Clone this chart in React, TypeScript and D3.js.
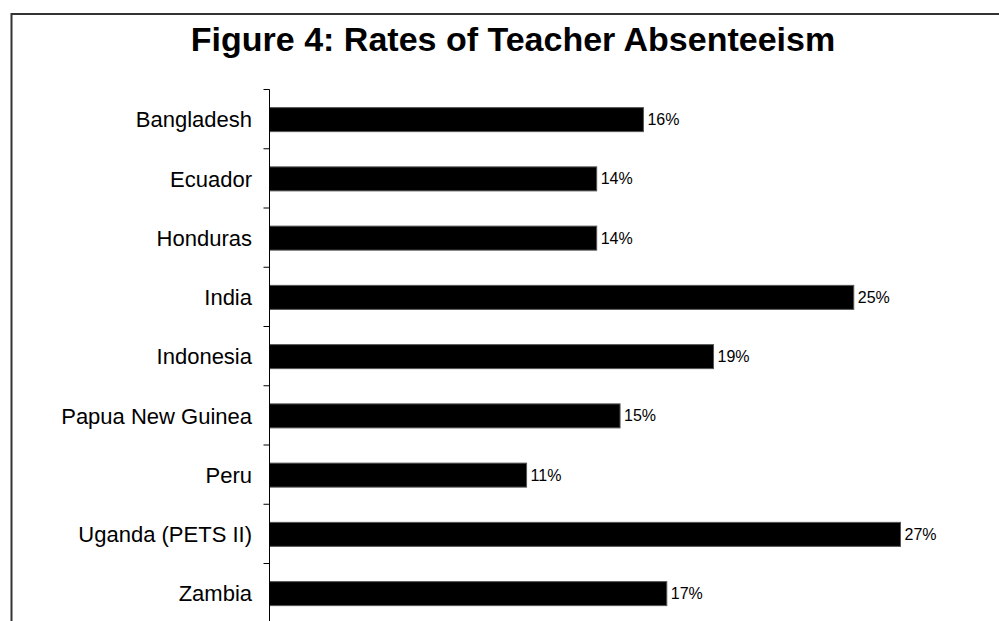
import React from "react";
import * as d3 from "d3";

const categories = [
  "Bangladesh",
  "Ecuador",
  "Honduras",
  "India",
  "Indonesia",
  "Papua New Guinea",
  "Peru",
  "Uganda (PETS II)",
  "Zambia",
];
const values = [16, 14, 14, 25, 19, 15, 11, 27, 17];
const valueLabels = ["16%", "14%", "14%", "25%", "19%", "15%", "11%", "27%", "17%"];
const title = "Figure 4: Rates of Teacher Absenteeism";

const W = 999;
const H = 621;
const FONT = "Arial, 'Liberation Sans', Helvetica, sans-serif";

export default function App() {
  const axisX = 269.5;
  const top = 89.5;
  const step = 59.25;
  const x = d3.scaleLinear().domain([0, 30]).range([axisX, axisX + 30 * 23.37]);
  const y = d3
    .scaleBand<string>()
    .domain(categories)
    .range([top, top + step * categories.length])
    .paddingInner(0.595)
    .paddingOuter(0.2975);
  const ticks = d3.range(categories.length + 1).map((i) => top + i * step);

  return (
    <svg
      width={W}
      height={H}
      style={{ position: "absolute", left: 0, top: 0, background: "#fff" }}
      fontFamily={FONT}
    >
      <rect x={0} y={0} width={W} height={H} fill="#fff" />
      <rect x={11.5} y={14} width={W + 50} height={H + 50} fill="none" stroke="#333" strokeWidth={2} />
      <text x={513} y={50.5} textAnchor="middle" fontSize={34} fontWeight="bold" fill="#000">
        {title}
      </text>
      {categories.map((c, i) => (
        <g key={c}>
          <rect
            x={x(0)}
            y={(y(c) as number) + 0.5}
            width={x(values[i]) - x(0)}
            height={y.bandwidth()}
            fill="#000"
            stroke="#555"
            strokeWidth={1}
          />
          <text
            x={x(values[i]) + 4}
            y={(y(c) as number) + 0.5 + y.bandwidth() / 2 + 5.6}
            fontSize={16}
            fill="#000"
          >
            {valueLabels[i]}
          </text>
          <text
            x={252}
            y={(y(c) as number) + y.bandwidth() / 2 + 8.3}
            fontSize={22}
            textAnchor="end"
            fill="#000"
          >
            {c}
          </text>
        </g>
      ))}
      <line x1={axisX} x2={axisX} y1={top} y2={H + 10} stroke="#000" strokeWidth={1} />
      {ticks.map((t, i) => (
        <line key={i} x1={axisX - 6} x2={axisX} y1={t} y2={t} stroke="#000" strokeWidth={1} />
      ))}
    </svg>
  );
}
